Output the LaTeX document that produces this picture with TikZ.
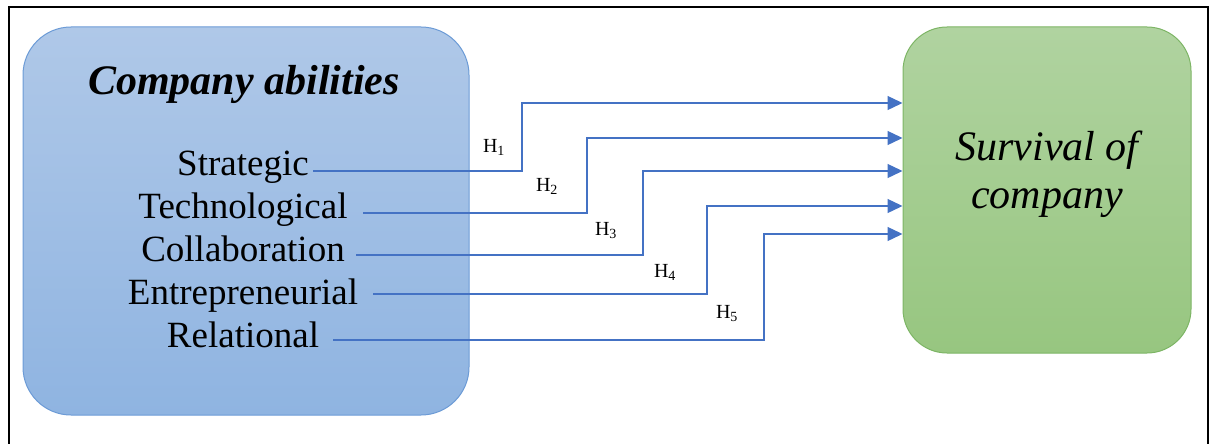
\documentclass[tikz,border=0pt]{standalone}
\usepackage{fontspec}
\setmainfont{Liberation Serif}
\usetikzlibrary{arrows.meta}

\definecolor{conncol}{HTML}{4472C4}
\definecolor{bluetop}{HTML}{AFC8E8}
\definecolor{bluebot}{HTML}{8FB4E1}
\definecolor{blueedge}{HTML}{6C9BD6}
\definecolor{greentop}{HTML}{B0D3A0}
\definecolor{greenbot}{HTML}{97C680}
\definecolor{greenedge}{HTML}{7DB565}

\tikzset{
  panel/.style={rounded corners=48pt, line width=1pt, inner sep=0pt},
  item/.style={anchor=base, font=\fontsize{37}{43}\selectfont, inner sep=0pt},
  hyp/.style={anchor=base, font=\fontsize{20}{24}\selectfont, inner sep=0pt},
  conn/.style={draw=conncol, line width=1.3pt,
    -{Triangle[length=15pt,width=14pt]}},
}

\begin{document}
\begin{tikzpicture}[x=1pt,y=-1pt]
  \useasboundingbox (0,0) rectangle (1215,444);

  % outer frame, open at the bottom
  \draw[line width=2pt] (9,446) -- (9,7) -- (1208,7) -- (1208,446);

  % the two panels
  \node[panel, draw=blueedge, top color=bluetop, bottom color=bluebot,
        minimum width=446pt, minimum height=388pt] (abil) at (246,221) {};
  \node[panel, draw=greenedge, top color=greentop, bottom color=greenbot,
        minimum width=288pt, minimum height=326pt, rounded corners=44pt]
        (surv) at (1047,190) {};

  % panel titles
  \node[anchor=base, inner sep=0pt, font=\fontsize{42}{48}\selectfont\bfseries\itshape]
        (abiltitle) at (244,94) {Company abilities};
  \node[anchor=base, inner sep=0pt, font=\fontsize{42}{48}\selectfont\itshape]
        (survA) at (1047,160) {Survival of};
  \node[anchor=base, inner sep=0pt, font=\fontsize{42}{48}\selectfont\itshape]
        (survB) at (1047,208) {company};

  % abilities
  \node[item] (strat) at (243,175) {Strategic};
  \node[item] (tech)  at (243,218) {Technological};
  \node[item] (coll)  at (243,261) {Collaboration};
  \node[item] (entr)  at (243,304) {Entrepreneurial};
  \node[item] (rela)  at (243,347) {Relational};

  % start and bend points of the connectors
  \coordinate (s1) at (313,171);
  \coordinate (s2) at (363,213);
  \coordinate (s3) at (356,255);
  \coordinate (s4) at (373,294);
  \coordinate (s5) at (333,340);
  \coordinate (b1) at (522,103);
  \coordinate (b2) at (587,138);
  \coordinate (b3) at (643,171);
  \coordinate (b4) at (707,206);
  \coordinate (b5) at (764,234);

  \draw[conn] (s1) -| (b1) -- (surv.west |- b1);
  \draw[conn] (s2) -| (b2) -- (surv.west |- b2);
  \draw[conn] (s3) -| (b3) -- (surv.west |- b3);
  \draw[conn] (s4) -| (b4) -- (surv.west |- b4);
  \draw[conn] (s5) -| (b5) -- (surv.west |- b5);

  % hypothesis labels
  \node[hyp] (h1) at (494,152) {H\textsubscript{1}};
  \node[hyp] (h2) at (547,191) {H\textsubscript{2}};
  \node[hyp] (h3) at (606,235) {H\textsubscript{3}};
  \node[hyp] (h4) at (665,277) {H\textsubscript{4}};
  \node[hyp] (h5) at (727,318) {H\textsubscript{5}};
\end{tikzpicture}
\end{document}
